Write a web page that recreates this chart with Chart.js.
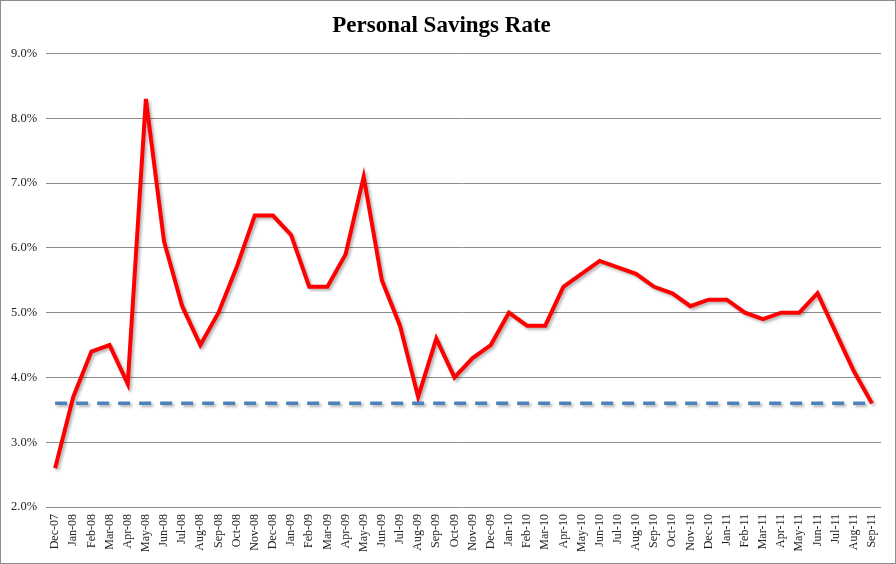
<!DOCTYPE html>
<html>
<head>
<meta charset="utf-8">
<script src="https://cdn.jsdelivr.net/npm/chart.js@4"></script>
<style>
  body { margin: 0; background: #fff; }
  .wrap { width: 896px; height: 564px; box-sizing: border-box; border: 1px solid #8c8c8c; position: relative; }
</style>
</head>
<body>
<div class="wrap"><canvas id="savingsChart" width="894" height="562"></canvas></div>
<script>
const months = ["Dec-07","Jan-08","Feb-08","Mar-08","Apr-08","May-08","Jun-08","Jul-08","Aug-08","Sep-08","Oct-08","Nov-08",
  "Dec-08","Jan-09","Feb-09","Mar-09","Apr-09","May-09","Jun-09","Jul-09","Aug-09","Sep-09","Oct-09","Nov-09",
  "Dec-09","Jan-10","Feb-10","Mar-10","Apr-10","May-10","Jun-10","Jul-10","Aug-10","Sep-10","Oct-10","Nov-10",
  "Dec-10","Jan-11","Feb-11","Mar-11","Apr-11","May-11","Jun-11","Jul-11","Aug-11","Sep-11"];
const savingsRate = [2.6,3.7,4.4,4.5,3.9,8.3,6.1,5.1,4.5,5.0,5.7,6.5,
  6.5,6.2,5.4,5.4,5.9,7.1,5.5,4.8,3.7,4.6,4.0,4.3,
  4.5,5.0,4.8,4.8,5.4,5.6,5.8,5.7,5.6,5.4,5.3,5.1,
  5.2,5.2,5.0,4.9,5.0,5.0,5.3,4.7,4.1,3.6];
const currentLevel = months.map(() => 3.6);
const yTicks = [2,3,4,5,6,7,8,9];

const shadow = {
  id: 'shadow',
  beforeDatasetDraw(chart) {
    const c = chart.ctx;
    c.save();
    c.shadowColor = 'rgba(0,0,0,0.3)';
    c.shadowBlur = 3;
    c.shadowOffsetX = 2;
    c.shadowOffsetY = 2;
  },
  afterDatasetDraw(chart) { chart.ctx.restore(); }
};

const CHART = document.getElementById("savingsChart");
let savingsChart = new Chart(CHART, {
  type: 'line',
  data: {
    labels: months,
    datasets: [
      {
        label: 'Current',
        data: currentLevel,
        borderColor: '#4f81bd',
        borderWidth: 3.5,
        borderDash: [12, 9],
        pointRadius: 0,
        fill: false
      },
      {
        label: 'Personal Savings Rate',
        data: savingsRate,
        borderColor: '#ff0000',
        borderWidth: 4,
        pointRadius: 0,
        tension: 0,
        fill: false
      }
    ]
  },
  plugins: [shadow],
  options: {
    responsive: false,
    animation: false,
    layout: { padding: { left: 1, right: 14, top: 0, bottom: 4 } },
    plugins: {
      legend: { display: false },
      tooltip: { enabled: false },
      title: {
        display: true,
        text: 'Personal Savings Rate',
        color: '#000',
        font: { family: 'Liberation Serif', size: 23, weight: 'bold' },
        padding: { top: 11, bottom: 14 }
      }
    },
    scales: {
      x: {
        offset: true,
        grid: { display: false, drawTicks: false },
        border: { display: false },
        ticks: {
          autoSkip: false,
          maxRotation: 90,
          minRotation: 90,
          padding: 7,
          color: '#222',
          font: { family: 'Liberation Serif', size: 12 }
        }
      },
      y: {
        min: 2,
        max: 9,
        afterBuildTicks(scale) { scale.ticks = yTicks.map(v => ({ value: v })); },
        grid: { color: '#8c8c8c', lineWidth: 1, drawTicks: false },
        border: { display: false },
        ticks: {
          padding: 9,
          color: '#222',
          font: { family: 'Liberation Serif', size: 12.5 },
          callback: v => v.toFixed(1) + '%'
        }
      }
    }
  }
});
</script>
</body>
</html>
